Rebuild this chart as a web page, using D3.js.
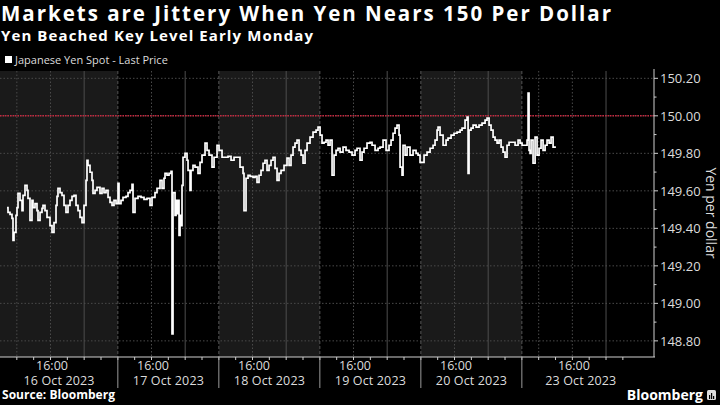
<!DOCTYPE html>
<html><head><meta charset="utf-8">
<script src="https://cdn.jsdelivr.net/npm/d3@7"></script>
<style>
html,body{margin:0;padding:0;background:#000;}
svg{display:block;}
</style>
</head><body>
<svg id="chart" width="720" height="405"></svg>
<script>
// ---- data (hours since chart start, trading-time axis with weekend removed) ----
const hours = [1.66,1.90,2.38,2.85,3.09,3.33,3.80,4.04,4.28,4.75,5.23,5.47,5.94,6.42,6.65,7.13,7.60,7.84,8.32,8.79,9.03,9.51,9.98,10.22,10.69,11.17,11.88,12.36,12.83,13.31,13.55,13.78,14.26,14.73,15.21,15.68,16.16,16.63,17.11,17.59,18.06,18.54,19.01,19.49,19.96,20.44,20.67,20.91,21.39,21.86,22.10,22.58,23.05,23.76,24.24,24.71,25.19,25.67,26.14,26.62,27.09,27.57,28.04,28.28,28.75,29.23,29.94,30.42,30.89,31.37,31.61,32.08,32.79,33.51,34.22,34.93,35.65,36.12,36.83,37.31,38.02,38.50,38.97,39.21,39.69,40.16,40.64,40.87,41.11,41.59,41.83,42.06,42.30,42.54,42.78,43.01,43.25,43.49,43.96,44.44,44.68,45.15,45.39,45.86,46.34,47.05,47.53,48.00,48.72,49.19,49.67,50.38,50.86,51.57,52.04,52.76,53.47,54.18,54.90,55.61,56.32,57.03,57.75,57.98,58.46,58.94,59.41,60.12,60.60,61.07,61.55,62.02,62.50,62.97,63.45,63.93,64.40,64.88,65.35,65.83,66.30,66.78,67.49,68.20,68.68,69.15,69.63,70.10,70.58,71.06,71.53,72.01,72.48,72.96,73.67,74.38,75.10,75.57,76.05,76.52,77.00,77.47,77.95,78.42,78.90,79.37,79.85,80.32,80.80,81.51,82.22,82.94,83.65,84.36,84.84,85.55,86.03,86.50,87.21,87.93,88.40,89.12,89.83,90.30,91.02,91.73,92.44,92.92,93.39,93.87,94.34,94.82,95.06,95.53,95.77,96.25,96.72,97.43,98.15,98.86,99.33,99.81,100.29,100.76,101.47,102.19,102.90,103.37,103.85,104.09,104.56,105.28,105.99,106.46,107.18,107.89,108.60,109.32,109.79,110.50,110.98,111.22,111.45,111.93,112.41,113.12,113.83,114.54,115.26,115.73,116.21,116.68,117.16,117.63,118.11,118.58,119.06,119.53,120.01,120.48,120.96,121.67,122.39,123.10,123.57,124.05,125.24,125.48,125.71,125.95,126.19,126.66,127.14,127.61,128.09,128.56,129.04,129.52,129.99,130.47,130.94,131.42,131.89];
const prices = [149.511,149.485,149.474,149.453,149.336,149.378,149.469,149.511,149.586,149.549,149.495,149.576,149.629,149.602,149.560,149.442,149.549,149.511,149.532,149.495,149.442,149.485,149.506,149.522,149.495,149.458,149.415,149.378,149.431,149.522,149.570,149.613,149.591,149.576,149.522,149.485,149.522,149.549,149.570,149.576,149.522,149.495,149.458,149.431,149.522,149.656,149.763,149.736,149.699,149.656,149.586,149.602,149.618,149.586,149.613,149.591,149.602,149.565,149.538,149.522,149.549,149.532,149.640,149.532,149.549,149.565,149.570,149.591,149.602,149.634,149.485,149.560,149.570,149.565,149.554,149.560,149.522,149.565,149.591,149.613,149.656,149.613,149.667,149.693,149.683,149.693,149.704,148.837,149.591,149.469,149.549,149.479,149.549,149.362,149.469,149.415,149.629,149.779,149.800,149.763,149.709,149.602,149.709,149.736,149.726,149.693,149.752,149.790,149.854,149.816,149.790,149.726,149.779,149.843,149.816,149.779,149.779,149.784,149.763,149.779,149.779,149.726,149.693,149.495,149.667,149.683,149.677,149.672,149.677,149.645,149.683,149.709,149.747,149.763,149.709,149.736,149.763,149.779,149.720,149.656,149.693,149.709,149.736,149.774,149.736,149.790,149.833,149.854,149.870,149.816,149.790,149.747,149.816,149.854,149.886,149.913,149.924,149.940,149.897,149.854,149.859,149.870,149.843,149.870,149.683,149.790,149.816,149.827,149.806,149.833,149.816,149.806,149.790,149.816,149.827,149.763,149.806,149.827,149.854,149.859,149.843,149.816,149.827,149.833,149.870,149.816,149.843,149.870,149.907,149.934,149.950,149.897,149.726,149.683,149.843,149.790,149.833,149.790,149.816,149.800,149.790,149.752,149.752,149.790,149.806,149.827,149.843,149.870,149.924,149.940,149.897,149.843,149.870,149.881,149.897,149.907,149.913,149.924,149.934,149.977,149.993,149.693,149.924,149.934,149.950,149.940,149.950,149.961,149.977,149.988,149.950,149.924,149.886,149.870,149.854,149.870,149.833,149.806,149.779,149.843,149.859,149.859,149.843,149.870,149.854,149.843,149.870,150.121,149.816,149.800,149.870,149.747,149.886,149.790,149.827,149.870,149.816,149.843,149.870,149.854,149.886,149.833,149.838];

const yTickValues = [148.8,149.0,149.2,149.4,149.6,149.8,150.0,150.2];
const yMinorValues = [148.9,149.1,149.3,149.5,149.7,149.9,150.1];
const dayBounds = [0,28,52,76,100,124,155.4];
const dayLabels = ["16 Oct 2023","17 Oct 2023","18 Oct 2023","19 Oct 2023","20 Oct 2023","23 Oct 2023"];
const dayLabelHours = [14,40,64,88,112,138];
const timeLabelHours = [12,36,60,84,108,136];
const timeLabelText = "16:00";
const dottedGridHours = [4,12,36,60,84,108,128,136];
const solidGridHours = [20,44,68,92,116,144];
const xTickHours = d3.range(4,152,4);
const refLevel = 150.00;

const title = "Markets are Jittery When Yen Nears 150 Per Dollar";
const subtitle = "Yen Beached Key Level Early Monday";
const legendLabel = "Japanese Yen Spot - Last Price";
const yTitle = "Yen per dollar";
const source = "Source: Bloomberg";

// ---- layout ----
const svg = d3.select("#chart");
const plot = {left:0, right:654, top:71, bottom:357};
const x = d3.scaleLinear().domain([0,155.4]).range([plot.left, plot.right]);
const y = d3.scaleLinear().domain([148.714,150.239]).range([plot.bottom, plot.top]);
const FONT = "'Open Sans', 'Noto Sans', sans-serif";

svg.append("rect").attr("width",720).attr("height",405).attr("fill","#000");

// day bands
svg.append("g").selectAll("rect").data(dayLabels).join("rect")
  .attr("x",(d,i)=>x(dayBounds[i]))
  .attr("width",(d,i)=>x(dayBounds[i+1])-x(dayBounds[i]))
  .attr("y",plot.top).attr("height",plot.bottom-plot.top)
  .attr("fill",(d,i)=> i%2===0 ? "#1a1a1a" : "#000");

// horizontal grid
svg.append("g").selectAll("line").data(yTickValues).join("line")
  .attr("x1",plot.left).attr("x2",plot.right)
  .attr("y1",d=>y(d)).attr("y2",d=>y(d))
  .attr("stroke","#4a4a4a").attr("stroke-width",1).attr("stroke-dasharray","1.5,2");

// vertical grids
svg.append("g").selectAll("line").data(dottedGridHours).join("line")
  .attr("x1",d=>x(d)).attr("x2",d=>x(d)).attr("y1",plot.top).attr("y2",plot.bottom)
  .attr("stroke","#4a4a4a").attr("stroke-dasharray","1.5,2");
svg.append("g").selectAll("line").data(solidGridHours).join("line")
  .attr("x1",d=>x(d)).attr("x2",d=>x(d)).attr("y1",plot.top).attr("y2",plot.bottom)
  .attr("stroke","#4d4d4d").attr("stroke-width",1);
svg.append("g").selectAll("line").data(dayBounds.slice(1,6)).join("line")
  .attr("x1",d=>x(d)).attr("x2",d=>x(d)).attr("y1",plot.top).attr("y2",plot.bottom)
  .attr("stroke","#555").attr("stroke-dasharray","3,2");

// reference line
svg.append("line").attr("x1",plot.left).attr("x2",plot.right)
  .attr("y1",y(refLevel)).attr("y2",y(refLevel))
  .attr("stroke","#c4283f").attr("stroke-width",1.5).attr("stroke-dasharray","1.5,1");

// price line
const pts = hours.map((h,i)=>[h,prices[i]]);
svg.append("path").datum(pts)
  .attr("d", d3.line().x(d=>x(d[0])).y(d=>y(d[1])).curve(d3.curveStepAfter))
  .attr("fill","none").attr("stroke","#fff").attr("stroke-width",1.7).attr("stroke-linejoin","miter");

// right axis
const yAxis = svg.append("g").attr("transform",`translate(${plot.right},0)`);
yAxis.append("line").attr("x1",0).attr("x2",0).attr("y1",plot.top-2).attr("y2",plot.bottom)
  .attr("stroke","#cfcfcf");
yAxis.selectAll("line.maj").data(yTickValues).join("line").attr("class","maj")
  .attr("x1",0).attr("x2",4).attr("y1",d=>y(d)).attr("y2",d=>y(d)).attr("stroke","#cfcfcf");
yAxis.selectAll("line.min").data(yMinorValues).join("line").attr("class","min")
  .attr("x1",0).attr("x2",2.5).attr("y1",d=>y(d)).attr("y2",d=>y(d)).attr("stroke","#cfcfcf");
yAxis.selectAll("text").data(yTickValues).join("text")
  .attr("x",6).attr("y",d=>y(d)).attr("dy","0.36em")
  .attr("fill","#dcdcdc").attr("font-family",FONT).attr("font-size",13)
  .text(d=>d3.format(".2f")(d));

svg.append("text")
  .attr("transform",`translate(705.5,${(plot.top+plot.bottom)/2 - 1}) rotate(90)`)
  .attr("text-anchor","middle").attr("fill","#dcdcdc")
  .attr("font-family",FONT).attr("font-size",14).text(yTitle);

// bottom axis
const xAxis = svg.append("g");
xAxis.append("line").attr("x1",plot.left).attr("x2",plot.right+1).attr("y1",plot.bottom).attr("y2",plot.bottom)
  .attr("stroke","#cfcfcf");
xAxis.selectAll("line.t").data(xTickHours).join("line").attr("class","t")
  .attr("x1",d=>x(d)).attr("x2",d=>x(d)).attr("y1",plot.bottom).attr("y2",plot.bottom+3)
  .attr("stroke","#cfcfcf");
xAxis.selectAll("line.sep").data(dayBounds.slice(1,6)).join("line").attr("class","sep")
  .attr("x1",d=>x(d)).attr("x2",d=>x(d)).attr("y1",plot.bottom).attr("y2",388)
  .attr("stroke","#9a9a9a");
xAxis.selectAll("text.tm").data(timeLabelHours).join("text").attr("class","tm")
  .attr("x",d=>x(d)+1.5).attr("y",369.5).attr("text-anchor","middle")
  .attr("fill","#dcdcdc").attr("font-family",FONT).attr("font-size",12.5).text(timeLabelText);
xAxis.selectAll("text.dy").data(dayLabels).join("text").attr("class","dy")
  .attr("x",(d,i)=>x(dayLabelHours[i])).attr("y",384.5).attr("text-anchor","middle")
  .attr("fill","#dcdcdc").attr("font-family",FONT).attr("font-size",12.5)
  .attr("textLength",71).attr("lengthAdjust","spacing").text(d=>d);

// titles
svg.append("text").attr("x",1).attr("y",21).attr("fill","#fff")
  .attr("font-family",FONT).attr("font-weight",700).attr("font-size",20.5)
  .attr("textLength",610).attr("lengthAdjust","spacing").text(title);
svg.append("text").attr("x",1).attr("y",41).attr("fill","#fff")
  .attr("font-family",FONT).attr("font-weight",700).attr("font-size",15)
  .attr("textLength",312).attr("lengthAdjust","spacing").text(subtitle);

// legend
svg.append("rect").attr("x",5).attr("y",56).attr("width",7).attr("height",7).attr("fill","#fff");
svg.append("text").attr("x",15).attr("y",64).attr("fill","#dcdcdc")
  .attr("font-family",FONT).attr("font-size",11).text(legendLabel);

// footer
svg.append("text").attr("x",2).attr("y",399).attr("fill","#fff")
  .attr("font-family",FONT).attr("font-weight",700).attr("font-size",12)
  .attr("textLength",113).attr("lengthAdjust","spacing").text(source);
svg.append("text").attr("x",703).attr("y",400).attr("text-anchor","end").attr("fill","#fff")
  .attr("font-family",FONT).attr("font-weight",700).attr("font-size",14).text("Bloomberg");
const logo = svg.append("g").attr("transform","translate(707,390)");
logo.append("rect").attr("width",9).attr("height",10).attr("rx",1.5).attr("fill","#ddd");
[[2,5,1.2,4],[4,3,1.2,6],[6,6,1.2,3]].forEach(b=>logo.append("rect")
  .attr("x",b[0]).attr("y",b[1]).attr("width",b[2]).attr("height",b[3]).attr("fill","#000"));
</script>
</body></html>
